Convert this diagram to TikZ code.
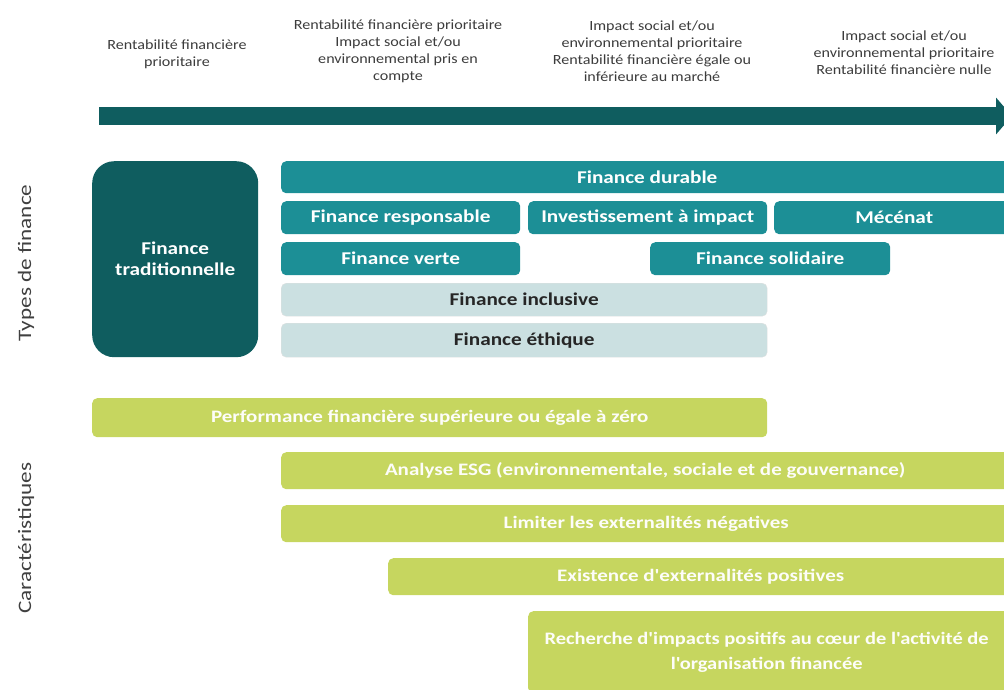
\documentclass[tikz,border=0pt]{standalone}
\usepackage{fontspec}
\setmainfont{Carlito}
\newfontfamily\hdrfont[FakeStretch=1.15]{Carlito}
\newfontfamily\boxfont[FakeStretch=1.18]{Carlito}
\newfontfamily\grfont[FakeStretch=1.2]{Carlito}
\newfontfamily\rfont[FakeStretch=1.17]{Carlito}
\newfontfamily\sidefont[FakeStretch=1.22]{Carlito}
\usetikzlibrary{arrows.meta}
\definecolor{dteal}{HTML}{0F5D5F}
\definecolor{mteal}{HTML}{1C8F96}
\definecolor{lteal}{HTML}{CBE0E1}
\definecolor{lgreen}{HTML}{C6D65F}
\definecolor{hdr}{HTML}{3C3C3C}
\tikzset{
  box/.style={rounded corners=5pt, inner sep=0pt, font=\boxfont\fontsize{18}{20}\selectfont\bfseries, align=center, anchor=north west},
  tbox/.style={box, fill=mteal, text=white},
  ibox/.style={box, fill=lteal, draw=black!12, text=black!85},
  gbox/.style={box, fill=lgreen, text=white!96!lgreen, font=\grfont\fontsize{17.5}{25}\selectfont\bfseries},
  hdrtext/.style={font=\hdrfont\fontsize{14}{17}\selectfont, text=hdr, align=center},
  side/.style={font=\sidefont\fontsize{19}{21}\selectfont, text=black!75, rotate=90}
}
\begin{document}
\begin{tikzpicture}[x=1pt,y=-1pt]
\useasboundingbox (0,0) rectangle (1004,689);
\clip (0,0) rectangle (1004,689);
% header texts
\node[hdrtext] (h1) at (177,54) {Rentabilité financière\\prioritaire};
\node[hdrtext] (h2) at (398,51) {Rentabilité financière prioritaire\\Impact social et/ou\\environnemental pris en\\compte};
\node[hdrtext] (h3) at (652,51) {Impact social et/ou\\environnemental prioritaire\\Rentabilité financière égale ou\\inférieure au marché};
\node[hdrtext] (h4) at (904,53) {Impact social et/ou\\environnemental prioritaire\\Rentabilité financière nulle};
% arrow
\coordinate (as) at (99,116);
\coordinate (ae) at (1012,116);
\draw[dteal, line width=18pt, -{Triangle[length=16pt,width=36pt]}] (as) -- (ae);
% side labels
\node[side] (s1) at (26,263) {Types de finance};
\node[side] (s2) at (26,538) {Caractéristiques};
% types
\node[rounded corners=22pt, fill=dteal, text=white, minimum width=166pt, minimum height=196pt, anchor=north west, font=\boxfont\fontsize{18}{21}\selectfont\bfseries, align=center, inner sep=0pt] (trad) at (92,161) {Finance\\traditionnelle};
\node[tbox, minimum width=740pt, minimum height=32pt] (dur) at (281,161) {\hspace*{-4pt}Finance durable\hspace*{4pt}};
\node[tbox, minimum width=239pt, minimum height=33pt] (resp) at (281,201) {Finance responsable};
\node[tbox, minimum width=239pt, minimum height=33pt] (inv) at (528,201) {Investissement à impact};
\node[tbox, minimum width=240pt, minimum height=33pt] (mec) at (774,201) {Mécénat};
\node[tbox, minimum width=239pt, minimum height=33pt] (vert) at (281,242) {Finance verte};
\node[tbox, minimum width=240pt, minimum height=33pt] (sol) at (650,242) {Finance solidaire};
\node[ibox, minimum width=486pt, minimum height=33pt] (incl) at (281,283) {Finance inclusive};
\node[ibox, minimum width=486pt, minimum height=34pt] (eth) at (281,323) {Finance éthique};
% characteristics
\node[gbox, minimum width=675pt, minimum height=39pt] (perf) at (92,398) {Performance financière supérieure ou égale à zéro};
\node[gbox, minimum width=740pt, minimum height=37pt] (esg) at (281,452) {\hspace*{-6pt}Analyse ESG (environnementale, sociale et de gouvernance)\hspace*{6pt}};
\node[gbox, minimum width=740pt, minimum height=37pt] (lim) at (281,505) {\hspace*{-5pt}Limiter les externalités négatives\hspace*{5pt}};
\node[gbox, minimum width=633pt, minimum height=37pt] (exi) at (388,558) {\hspace*{-4pt}Existence d'externalités positives\hspace*{4pt}};
\node[gbox, minimum width=493pt, minimum height=82pt, font=\rfont\fontsize{17.5}{25}\selectfont\bfseries] (rech) at (528,611) {\hspace*{-8pt}Recherche d'impacts positifs au cœur de l'activité de\hspace*{8pt}\\\hspace*{-8pt}l'organisation financée\hspace*{8pt}};
\end{tikzpicture}
\end{document}
